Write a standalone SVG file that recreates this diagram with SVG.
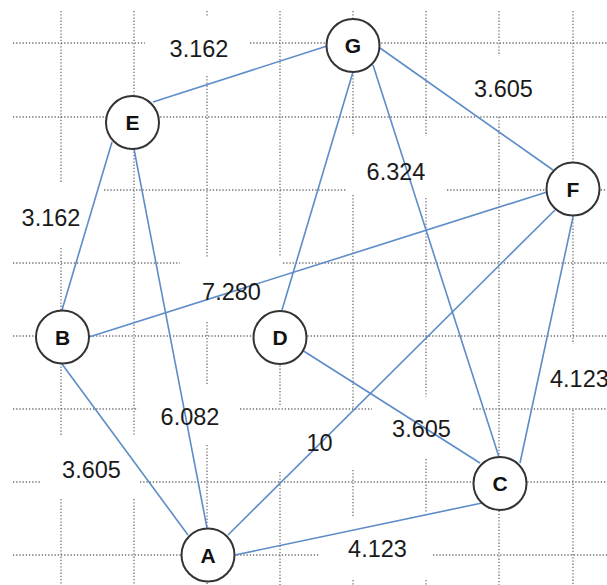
<svg xmlns="http://www.w3.org/2000/svg" width="607" height="585" viewBox="0 0 607 585">
<style>
.grid line{stroke:#6f6f6f;stroke-width:1.3;stroke-dasharray:1.3 1.9}
.edge line{stroke:#5d8cc8;stroke-width:1.6}
.node circle{fill:#fff;stroke:#333;stroke-width:2}
.node text{font-family:"Liberation Sans",Arial,sans-serif;font-weight:bold;font-size:21px;fill:#111;text-anchor:middle}
.lbl{font-family:"Liberation Sans",Arial,sans-serif;font-size:23.5px;fill:#1a1a1a;text-anchor:middle}
</style>
<rect width="607" height="585" fill="#fff"/>
<g class="grid" id="grid">
<line x1="13" y1="43" x2="145" y2="43"/><line x1="250" y1="43" x2="607" y2="43"/>
<line x1="13" y1="117" x2="607" y2="117"/>
<line x1="104" y1="190" x2="347" y2="190"/><line x1="447" y1="190" x2="607" y2="190"/>
<line x1="13" y1="263" x2="180" y2="263"/><line x1="283" y1="263" x2="607" y2="263"/>
<line x1="13" y1="336" x2="607" y2="336"/>
<line x1="13" y1="409" x2="138" y2="409"/><line x1="240" y1="409" x2="372" y2="409"/><line x1="473" y1="409" x2="607" y2="409"/>
<line x1="13" y1="482" x2="40" y2="482"/><line x1="140" y1="482" x2="607" y2="482"/>
<line x1="13" y1="555" x2="320" y2="555"/><line x1="433" y1="555" x2="607" y2="555"/>
<line x1="61" y1="11" x2="61" y2="183"/><line x1="61" y1="248" x2="61" y2="435"/><line x1="61" y1="499" x2="61" y2="585"/>
<line x1="134" y1="11" x2="134" y2="435"/><line x1="134" y1="499" x2="134" y2="585"/>
<line x1="207" y1="11" x2="207" y2="16"/><line x1="207" y1="76" x2="207" y2="257"/><line x1="207" y1="322" x2="207" y2="385"/><line x1="207" y1="445" x2="207" y2="585"/>
<line x1="280" y1="11" x2="280" y2="257"/><line x1="280" y1="311" x2="280" y2="407"/><line x1="280" y1="472" x2="280" y2="585"/>
<line x1="353" y1="11" x2="353" y2="136"/><line x1="353" y1="195" x2="353" y2="410"/><line x1="353" y1="470" x2="353" y2="516"/><line x1="353" y1="580" x2="353" y2="585"/>
<line x1="426" y1="11" x2="426" y2="136"/><line x1="426" y1="198" x2="426" y2="397"/><line x1="426" y1="459" x2="426" y2="513"/><line x1="426" y1="580" x2="426" y2="585"/>
<line x1="499" y1="11" x2="499" y2="56"/><line x1="499" y1="117" x2="499" y2="585"/>
<line x1="573" y1="11" x2="573" y2="344"/><line x1="573" y1="410" x2="573" y2="585"/>
</g>
<g class="edge" id="connectors">
<line x1="153" y1="102" x2="327" y2="46"/>
<line x1="112" y1="142" x2="62" y2="310"/>
<line x1="134" y1="149" x2="207" y2="528"/>
<line x1="353" y1="72" x2="282" y2="310"/>
<line x1="373" y1="65" x2="499" y2="457"/>
<line x1="380" y1="48" x2="553" y2="170"/>
<line x1="547" y1="192" x2="89" y2="337"/>
<line x1="555" y1="210" x2="228" y2="535"/>
<line x1="573" y1="217" x2="520" y2="463"/>
<line x1="302" y1="350" x2="480" y2="463"/>
<line x1="62" y1="364" x2="188" y2="535"/>
<line x1="235" y1="555" x2="482" y2="503"/>
</g>
<g class="node" id="node-E"><circle cx="132.5" cy="122.5" r="26.5"/><text x="132.5" y="130">E</text></g>
<g class="node" id="node-G"><circle cx="353" cy="45.5" r="26.5"/><text x="353" y="53">G</text></g>
<g class="node" id="node-F"><circle cx="573" cy="189" r="26.5"/><text x="573" y="196.5">F</text></g>
<g class="node" id="node-B"><circle cx="62.5" cy="337" r="26.5"/><text x="62.5" y="344.5">B</text></g>
<g class="node" id="node-D"><circle cx="280" cy="337.5" r="26.5"/><text x="280" y="345">D</text></g>
<g class="node" id="node-C"><circle cx="500" cy="483.5" r="26.5"/><text x="500" y="491">C</text></g>
<g class="node" id="node-A"><circle cx="208" cy="555" r="26.5"/><text x="208" y="562.5">A</text></g>
<g id="labels">
<text class="lbl" x="199" y="57">3.162</text>
<text class="lbl" x="503.5" y="97">3.605</text>
<text class="lbl" x="396" y="180">6.324</text>
<text class="lbl" x="51" y="226">3.162</text>
<text class="lbl" x="231.5" y="300">7.280</text>
<text class="lbl" x="190" y="425">6.082</text>
<text class="lbl" x="91.5" y="478">3.605</text>
<text class="lbl" x="319.5" y="451">10</text>
<text class="lbl" x="421.5" y="437">3.605</text>
<text class="lbl" x="377.5" y="557">4.123</text>
<text class="lbl" x="550" y="387" style="text-anchor:start">4.123</text>
</g>
</svg>
